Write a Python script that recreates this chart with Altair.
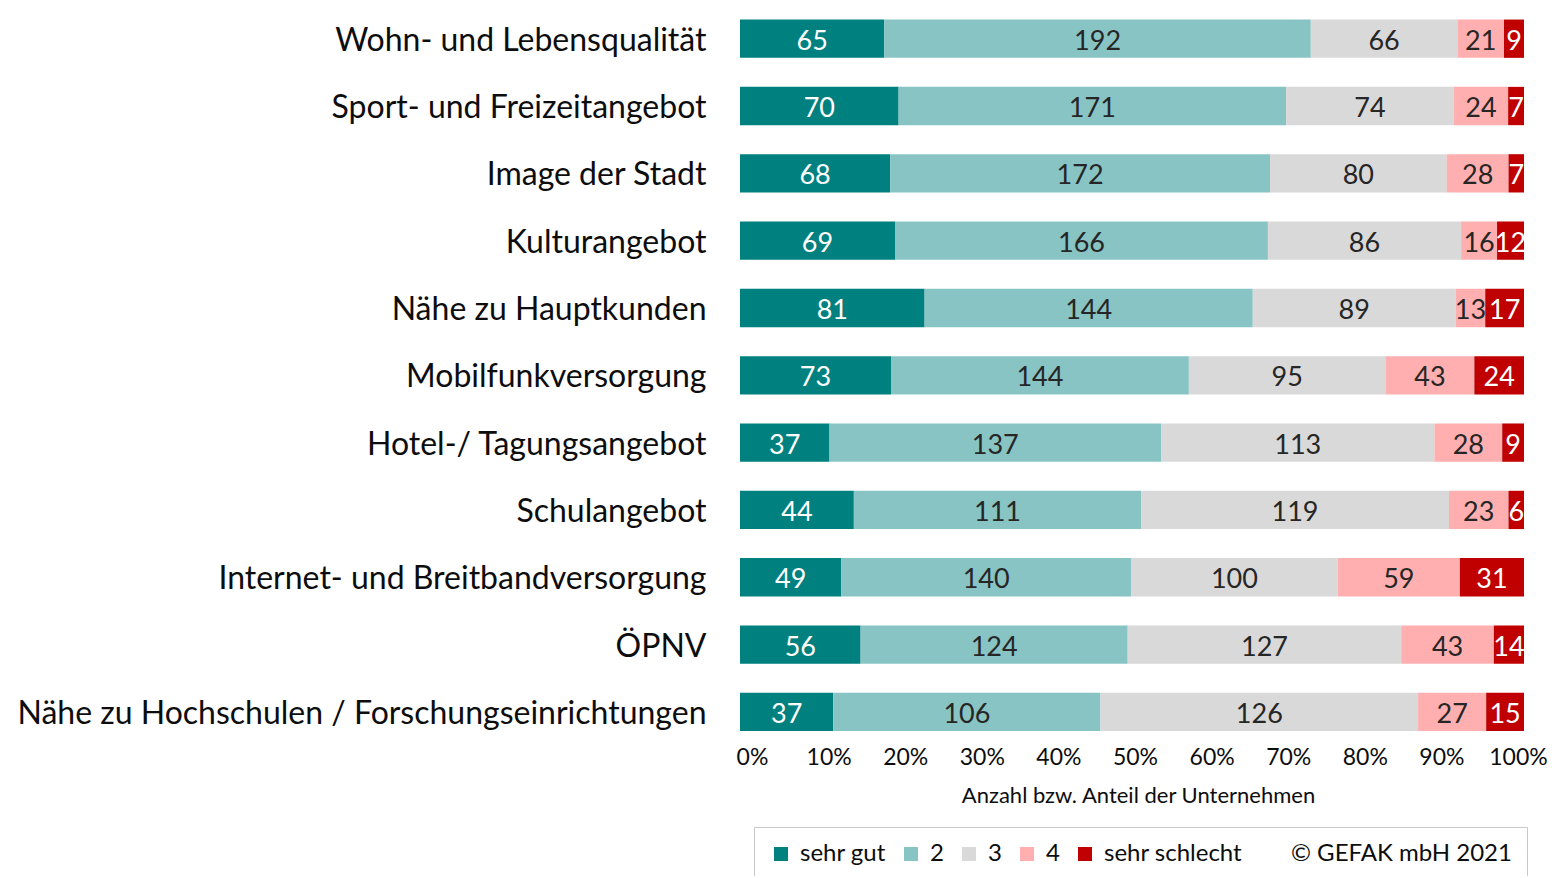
import altair as alt
import pandas as pd

categories = [
    "Wohn- und Lebensqualität",
    "Sport- und Freizeitangebot",
    "Image der Stadt",
    "Kulturangebot",
    "Nähe zu Hauptkunden",
    "Mobilfunkversorgung",
    "Hotel-/ Tagungsangebot",
    "Schulangebot",
    "Internet- und Breitbandversorgung",
    "ÖPNV",
    "Nähe zu Hochschulen / Forschungseinrichtungen",
]
ratings = ["sehr gut", "2", "3", "4", "sehr schlecht"]
colors = ["#00807F", "#88C4C4", "#D9D9D9", "#FFAFAF", "#C00000"]

sehr_gut = [65, 70, 68, 69, 81, 73, 37, 44, 49, 56, 37]
note_2 = [192, 171, 172, 166, 144, 144, 137, 111, 140, 124, 106]
note_3 = [66, 74, 80, 86, 89, 95, 113, 119, 100, 127, 126]
note_4 = [21, 24, 28, 16, 13, 43, 28, 23, 59, 43, 27]
sehr_schlecht = [9, 7, 7, 12, 17, 24, 9, 6, 31, 14, 15]

tick_values = [0, 0.1, 0.2, 0.3, 0.4, 0.5, 0.6, 0.7, 0.8, 0.9, 1.0]

FONT = "Lato"

series = [sehr_gut, note_2, note_3, note_4, sehr_schlecht]
rows = []
for i, c in enumerate(categories):
    for j, r in enumerate(ratings):
        rows.append({"cat": c, "rating": r, "order": j, "value": series[j][i]})
df = pd.DataFrame(rows)

base = alt.Chart(df).transform_stack(
    stack="value",
    groupby=["cat"],
    as_=["x0", "x1"],
    offset="normalize",
    sort=[alt.SortField("order", order="ascending")],
).transform_calculate(mid="(datum.x0 + datum.x1) / 2")

y_enc = alt.Y(
    "cat:N",
    sort=categories,
    scale=alt.Scale(paddingInner=0.431, paddingOuter=0.1225, align=0.70),
    axis=alt.Axis(
        title=None,
        ticks=False,
        domain=False,
        labelFontSize=32,
        labelFont=FONT,
        labelColor="#0D0D0D",
        labelPadding=34,
        labelOffset=2,
        labelLimit=0,
    ),
)

bars = base.mark_bar(strokeWidth=0).encode(
    x=alt.X(
        "x0:Q",
        scale=alt.Scale(domain=[0, 1], nice=False, zero=False),
        axis=alt.Axis(
            grid=True,
            gridColor="#D9D9D9",
            gridWidth=1.3,
            labels=False,
            ticks=False,
            domain=False,
            title=None,
            values=tick_values,
        ),
    ),
    x2="x1:Q",
    y=y_enc,
    color=alt.Color(
        "rating:N",
        scale=alt.Scale(domain=ratings, range=colors),
        legend=alt.Legend(
            orient="none",
            legendX=14,
            legendY=819,
            direction="horizontal",
            title="© GEFAK mbH 2021",
            titleOrient="right",
            titleFontSize=24,
            titleFontWeight="normal",
            titleFont=FONT,
            titleColor="#0D0D0D",
            titlePadding=49,
            titleLimit=0,
            labelFontSize=24,
            labelFont=FONT,
            labelColor="#0D0D0D",
            labelOffset=7,
            labelLimit=0,
            symbolType="square",
            symbolSize=196,
            symbolStrokeWidth=0,
            columnPadding=13,
            strokeColor="#C8C8C8",
            fillColor="white",
            padding=15,
        ),
    ),
    order=alt.Order("order:Q"),
)

labels = base.mark_text(fontSize=27, font=FONT, baseline="middle", dy=3).encode(
    x=alt.X("mid:Q", scale=alt.Scale(domain=[0, 1], nice=False, zero=False), axis=None),
    y=alt.Y("cat:N", sort=categories),
    text=alt.Text("value:Q"),
    color=alt.condition(
        "datum.rating == 'sehr gut' || datum.rating == 'sehr schlecht'",
        alt.value("white"),
        alt.value("#262626"),
    ),
)

axis_layer = alt.Chart(pd.DataFrame({"t": tick_values})).mark_point(opacity=0).encode(
    x=alt.X(
        "t:Q",
        scale=alt.Scale(domain=[-0.01567, 1.00783], nice=False, zero=False),
        axis=alt.Axis(
            orient="bottom",
            format="%",
            values=tick_values,
            grid=False,
            ticks=False,
            domain=False,
            labelFontSize=23,
            labelFont=FONT,
            labelColor="#0D0D0D",
            labelPadding=10,
            title="Anzahl bzw. Anteil der Unternehmen",
            titleFontSize=22,
            titleFont=FONT,
            titleFontWeight="normal",
            titleColor="#0D0D0D",
            titlePadding=16,
            titleX=398,
        ),
    )
)

chart = (
    alt.layer(alt.layer(bars, labels), axis_layer)
    .resolve_scale(x="independent")
    .properties(
        width=784,
        height=728,
        autosize=alt.AutoSizeParams(type="none"),
        padding={"left": 732, "top": 0, "right": 26, "bottom": 140},
        background="white",
    )
    .configure_view(stroke=None)
)

chart.save("out.html", embed_options={"renderer": "svg", "actions": False})
